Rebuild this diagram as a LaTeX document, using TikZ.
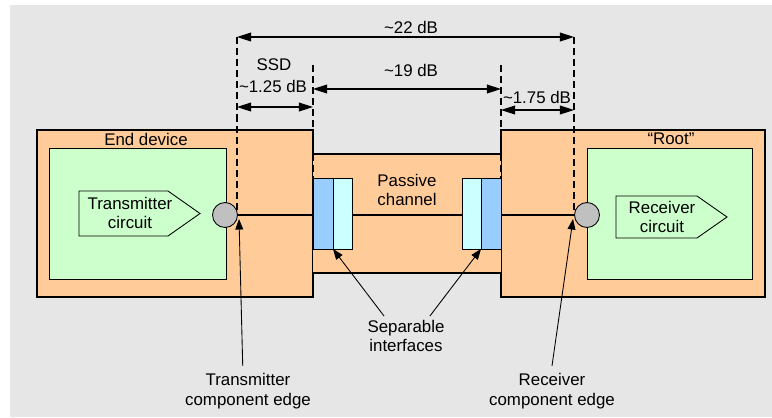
\documentclass[tikz,border=0pt]{standalone}
\usepackage{fontspec}
\setmainfont{Liberation Sans}
\usepackage{tikz}
\usetikzlibrary{arrows.meta}
\definecolor{bggrey}{HTML}{E6E6E6}
\definecolor{devorange}{HTML}{FFCC99}
\definecolor{circgreen}{HTML}{CCFFCC}
\definecolor{plugblue}{HTML}{99CCFF}
\definecolor{plugcyan}{HTML}{CCFFFF}
\definecolor{portgrey}{HTML}{C0C0C0}

\begin{document}
\begin{tikzpicture}[x=0.02cm, y=-0.02cm,
    font=\fontsize{9.6}{11.3}\selectfont,
    dimarrow/.style={{Triangle[length=8pt,width=5pt]}-{Triangle[length=8pt,width=5pt]}, line width=0.7pt},
    ptr/.style={-{Triangle[length=6pt,width=4.5pt]}, line width=0.5pt},
    cutline/.style={dash pattern=on 4pt off 2.3pt, line width=0.8pt},
    port/.style={circle, draw, fill=portgrey, minimum size=14.2pt, inner sep=0pt, line width=0.5pt},
    txt/.style={align=center, inner sep=0pt}]
    \useasboundingbox (0,0) rectangle (772,417);
    \fill[bggrey] (10,5) rectangle (772,417);
    % devices and channel
    \draw[fill=devorange, line width=0.7pt] (37,130) rectangle (313,297);
    \draw[fill=devorange, line width=0.7pt] (501,130) rectangle (765,297);
    \fill[devorange] (313,154) rectangle (501,273);
    \draw[line width=0.7pt] (313,154) -- (501,154) (313,273) -- (501,273);
    \draw[fill=plugblue, line width=0.5pt] (313,178) rectangle (333,249);
    \draw[fill=plugcyan, line width=0.5pt] (333,178) rectangle (352,249);
    \draw[fill=plugcyan, line width=0.5pt] (462,178) rectangle (481,249);
    \draw[fill=plugblue, line width=0.5pt] (481,178) rectangle (501,249);
    \draw[fill=circgreen, line width=0.5pt] (49,148) rectangle (226,279);
    \draw[fill=circgreen, line width=0.5pt] (587,148) rectangle (752,279);
    \draw[fill=circgreen, line width=0.5pt] (79,191) -- (168,191) -- (200,213.5) -- (168,236) -- (79,236) -- cycle;
    \draw[fill=circgreen, line width=0.5pt] (616,196) -- (697,196) -- (727,217) -- (697,238) -- (616,238) -- cycle;
    \node[txt] (devlbl) at (146,139) {End device};
    \node[txt] (rootlbl) at (671,139) {“Root”};
    \node[txt] (txcirc) at (130,213) {Transmitter\\circuit};
    \node[txt] (rxcirc) at (662,217) {Receiver\\circuit};
    \node[txt] (chanlbl) at (407,190) {Passive\\channel};
    % signal path
    \node[port] (txport) at (225,215) {};
    \node[port] (rxport) at (587,215) {};
    \draw[line width=0.7pt] (txport.east) -- (313,215) (352,215) -- (462,215) (501,215) -- (rxport.west);
    % loss budget
    \coordinate (txtop) at (237,37);
    \coordinate (ssdtop) at (313,65);
    \coordinate (roottop) at (501,65);
    \coordinate (rxtop) at (574,37);
    \draw[cutline] (txtop) -- (237,214);
    \draw[cutline] (ssdtop) -- (313,178);
    \draw[cutline] (roottop) -- (501,178);
    \draw[cutline] (rxtop) -- (574,214);
    \draw[dimarrow] (txtop) -- (rxtop);
    \draw[dimarrow] (txtop |- 0,107) -- (ssdtop |- 0,107);
    \draw[dimarrow] (ssdtop |- 0,89) -- (roottop |- 0,89);
    \draw[dimarrow] (roottop |- 0,110) -- (rxtop |- 0,110);
    \node[txt] (totloss) at (411,27) {\textasciitilde22 dB};
    \node[txt] (ssdlbl) at (274,65) {SSD};
    \node[txt] (ssdloss) at (273,86) {\textasciitilde1.25 dB};
    \node[txt] (chanloss) at (411,70) {\textasciitilde19 dB};
    \node[txt] (rootloss) at (537,97) {\textasciitilde1.75 dB};
    % callouts
    \node[txt] (txedge) at (248,391) {Transmitter\\component edge};
    \node[txt] (seplbl) at (406,336) {Separable\\interfaces};
    \node[txt] (rxedge) at (552,391) {Receiver\\component edge};
    \draw[ptr] ([xshift=-3pt,yshift=4pt]txedge.north) -- (239,219);
    \draw[ptr] ([xshift=-12.5pt,yshift=2pt]seplbl.north) -- (333,249);
    \draw[ptr] ([xshift=13.6pt,yshift=2pt]seplbl.north) -- (481,249);
    \draw[ptr] ([yshift=4pt]rxedge.north) -- (573,219);
\end{tikzpicture}
\end{document}
